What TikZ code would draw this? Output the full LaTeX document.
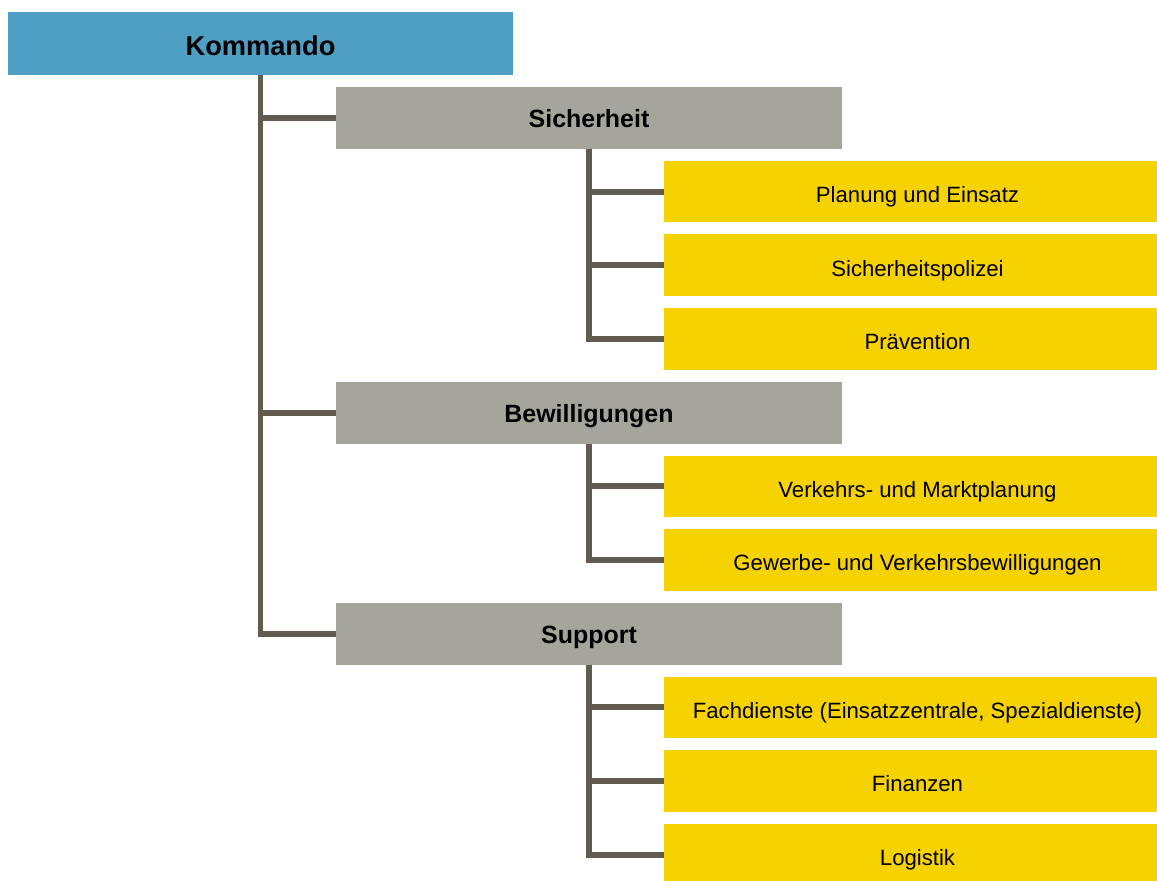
\documentclass[tikz,border=0pt]{standalone}
\usepackage{fontspec}
\setmainfont{Liberation Sans}
\usetikzlibrary{positioning}
\definecolor{kdoblue}{HTML}{4F9EC4}
\definecolor{divgray}{HTML}{A5A59B}
\definecolor{unityellow}{HTML}{F5D200}
\definecolor{treeline}{HTML}{625C50}

\begin{document}
\begin{tikzpicture}[
    every node/.style={inner sep=0pt, outer sep=0pt, text=black, text depth=1mm},
    kdobox/.style={fill=kdoblue, minimum width=101mm, minimum height=12.6mm, text height=5.6mm, font=\fontsize{15.5}{18}\selectfont\bfseries},
    divbox/.style={fill=divgray, minimum width=101.2mm, minimum height=12.34mm, text height=4.8mm, font=\fontsize{14.2}{17}\selectfont\bfseries},
    unitbox/.style={fill=unityellow, minimum width=98.6mm, minimum height=12.34mm, text height=5.3mm, font=\fontsize{12.6}{15}\selectfont, execute at begin node=\hspace*{2.8mm}},
    tree/.style={draw=treeline, line width=3.4pt},
]
\useasboundingbox (0,0) rectangle (23.14,-17.6);

% Kommando and the three divisions
\node[kdobox, anchor=north west] (kdo) at (0.16,-0.24) {Kommando};
\node[divbox, below=2.4mm of kdo.south west, anchor=north west, xshift=65.6mm] (sich) {Sicherheit};

% Sicherheit units
\node[unitbox, below=2.4mm of sich.south west, anchor=north west, xshift=65.6mm] (plan) {Planung und Einsatz};
\node[unitbox, below=2.4mm of plan] (sipo) {Sicherheitspolizei};
\node[unitbox, below=2.4mm of sipo] (prae) {Prävention};

\node[divbox, below=2.4mm of prae.south west, anchor=north west, xshift=-65.6mm] (bew) {Bewilligungen};

% Bewilligungen units
\node[unitbox, below=2.4mm of bew.south west, anchor=north west, xshift=65.6mm] (verk) {Verkehrs- und Marktplanung};
\node[unitbox, below=2.4mm of verk] (gew) {Gewerbe- und Verkehrsbewilligungen};

\node[divbox, below=2.4mm of gew.south west, anchor=north west, xshift=-65.6mm] (supp) {Support};

% Support units
\node[unitbox, below=2.4mm of supp.south west, anchor=north west, xshift=65.6mm] (fach) {Fachdienste (Einsatzzentrale, Spezialdienste)};
\node[unitbox, below=2.4mm of fach] (fin) {Finanzen};
\node[unitbox, below=2.4mm of fin] (log) {Logistik};

% Tree lines
\draw[tree] (kdo.south) |- (sich.west);
\draw[tree] (kdo.south) |- (bew.west);
\draw[tree] (kdo.south) |- (supp.west);

\draw[tree] (sich.south) |- (plan.west);
\draw[tree] (sich.south) |- (sipo.west);
\draw[tree] (sich.south) |- (prae.west);

\draw[tree] (bew.south) |- (verk.west);
\draw[tree] (bew.south) |- (gew.west);

\draw[tree] (supp.south) |- (fach.west);
\draw[tree] (supp.south) |- (fin.west);
\draw[tree] (supp.south) |- (log.west);

\end{tikzpicture}
\end{document}
